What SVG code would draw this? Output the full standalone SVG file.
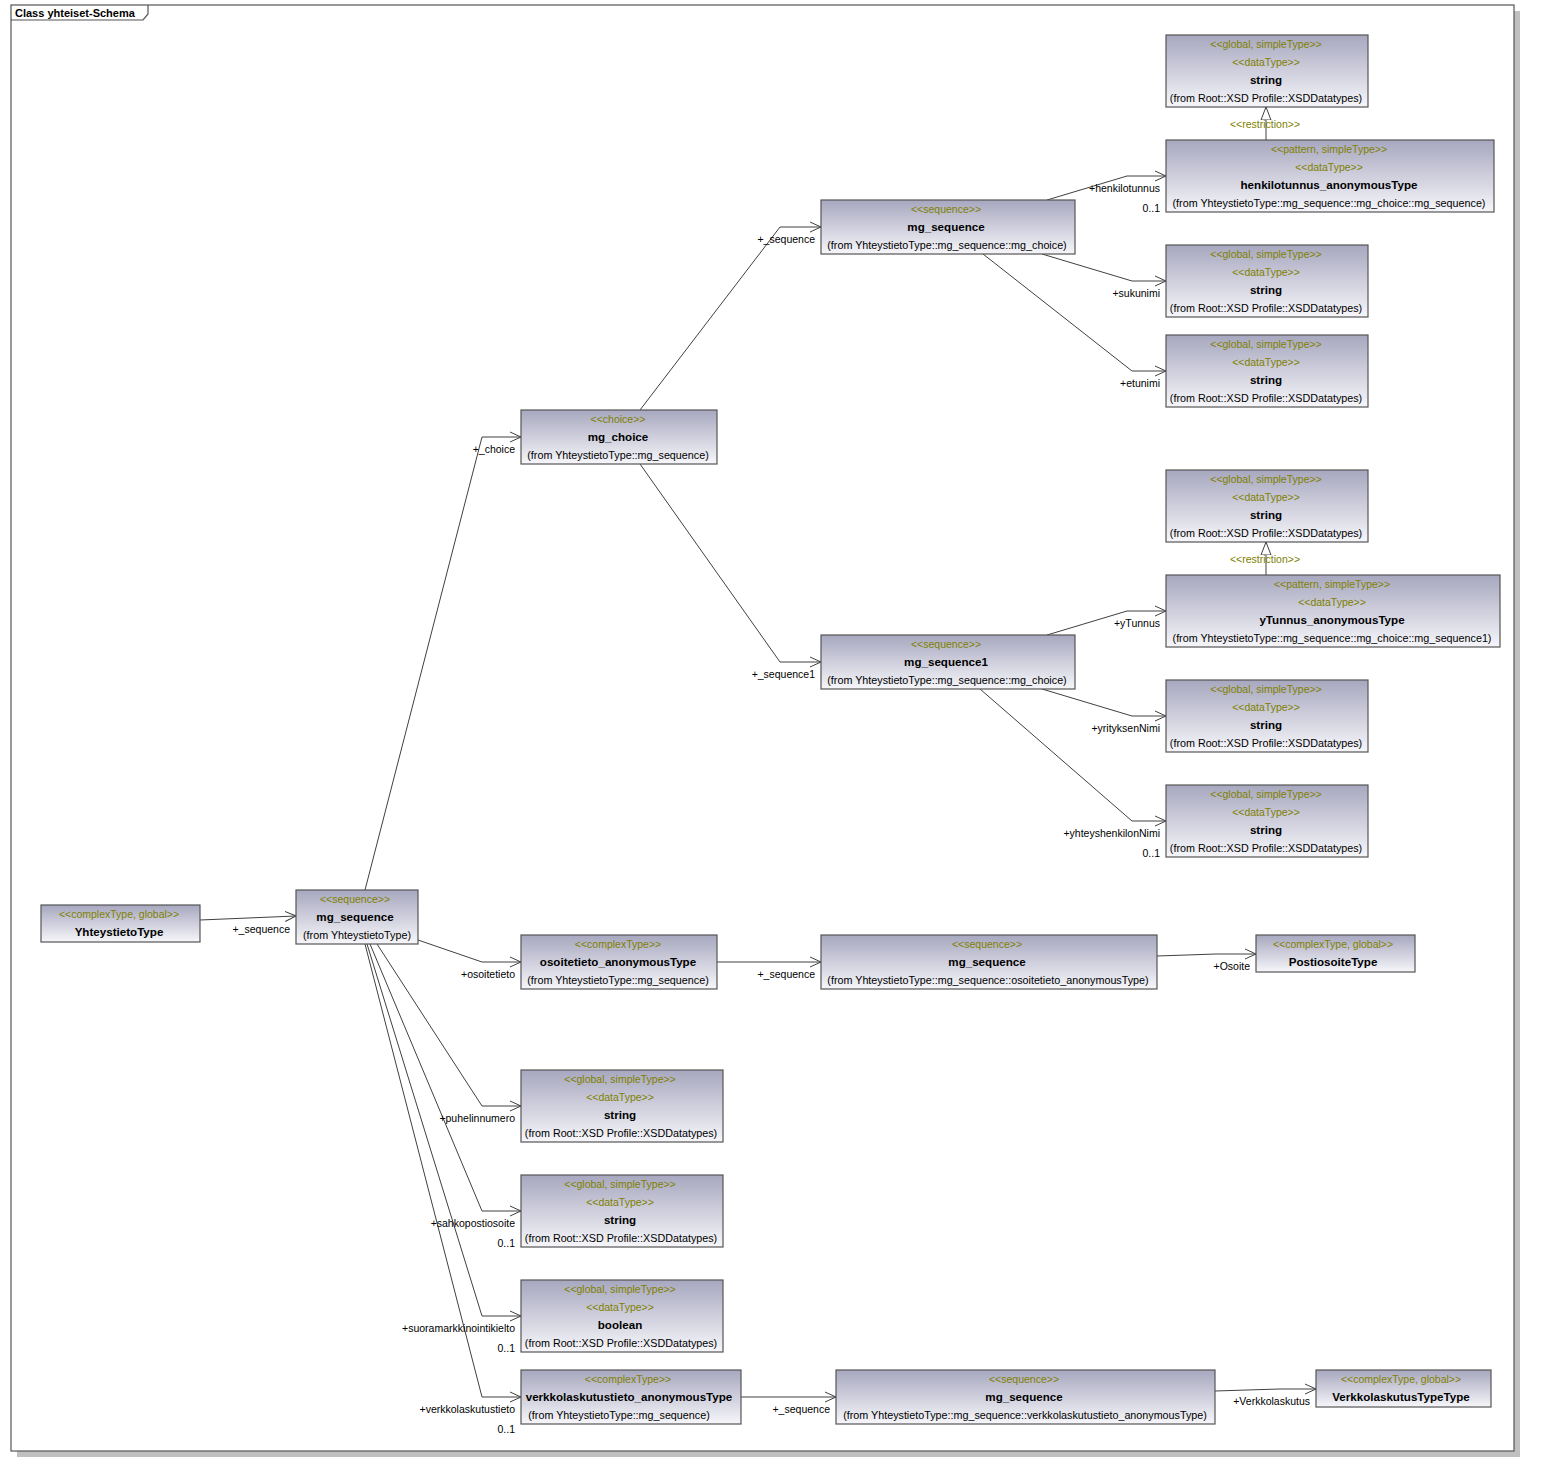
<svg xmlns="http://www.w3.org/2000/svg" width="1541" height="1472" viewBox="0 0 1541 1472">
<defs>
<linearGradient id="g" x1="0" y1="0" x2="0" y2="1">
<stop offset="0" stop-color="#a7a7bf"/>
<stop offset="1" stop-color="#f6f6fa"/>
</linearGradient>
<marker id="open" viewBox="0 0 12 12" refX="11" refY="6" markerWidth="12" markerHeight="12" markerUnits="userSpaceOnUse" orient="auto">
<path d="M0,1 L11,6 L0,11" fill="none" stroke="#404040" stroke-width="1"/>
</marker>
<marker id="tri" viewBox="0 0 14 12" refX="13" refY="6" markerWidth="14" markerHeight="12" markerUnits="userSpaceOnUse" orient="auto">
<path d="M13,6 L0,1 L0,11 Z" fill="#ffffff" stroke="#404040" stroke-width="1"/>
</marker>
<style>
.box{fill:url(#g);stroke:#555555;stroke-width:1.2}
.st{font-family:"Liberation Sans",Arial,sans-serif;font-size:10.5px;fill:#808000;text-anchor:middle}
.nm{font-family:"Liberation Sans",Arial,sans-serif;font-size:11.6px;font-weight:bold;fill:#000000;text-anchor:middle}
.fr{font-family:"Liberation Sans",Arial,sans-serif;font-size:10.75px;fill:#000000;text-anchor:middle}
.lb{font-family:"Liberation Sans",Arial,sans-serif;font-size:10.5px;fill:#000000;text-anchor:end}
.ln{fill:none;stroke:#404040;stroke-width:1}
</style>
</defs>
<rect x="0" y="0" width="1541" height="1472" fill="#ffffff"/>
<g id="frame">
<rect x="17" y="11" width="1503" height="1446" fill="#c0c0c0"/>
<rect x="11" y="5" width="1503" height="1446" fill="#ffffff" stroke="#555555" stroke-width="1.2"/>
<path d="M11,20 L143,20 L148,14 L148,5" fill="none" stroke="#555555" stroke-width="1.2"/>
<text x="15" y="17" font-family="Liberation Sans,Arial,sans-serif" font-size="11" font-weight="bold" fill="#000">Class yhteiset-Schema</text>
</g>

<g id="connectors">
<polyline class="ln" points="200,920 296,916" marker-end="url(#open)"/>
<polyline class="ln" points="365,890 482,437 521,437" marker-end="url(#open)"/>
<polyline class="ln" points="640,410 780,227 821,227" marker-end="url(#open)"/>
<polyline class="ln" points="640,464 780,662 821,662" marker-end="url(#open)"/>
<polyline class="ln" points="1047,200 1127,176 1166,176" marker-end="url(#open)"/>
<polyline class="ln" points="1042,254 1132,281 1166,281" marker-end="url(#open)"/>
<polyline class="ln" points="983,254 1132,371 1166,371" marker-end="url(#open)"/>
<polyline class="ln" points="1047,635 1127,611 1166,611" marker-end="url(#open)"/>
<polyline class="ln" points="1042,689 1132,716 1166,716" marker-end="url(#open)"/>
<polyline class="ln" points="980,689 1132,821 1166,821" marker-end="url(#open)"/>
<line class="ln" x1="1266" y1="140" x2="1266" y2="107" marker-end="url(#tri)"/>
<line class="ln" x1="1266" y1="575" x2="1266" y2="542" marker-end="url(#tri)"/>
<polyline class="ln" points="418,940 482,962 521,962" marker-end="url(#open)"/>
<polyline class="ln" points="717,962 821,962" marker-end="url(#open)"/>
<polyline class="ln" points="1157,956 1216,954 1256,954" marker-end="url(#open)"/>
<polyline class="ln" points="377,944 482,1106 521,1106" marker-end="url(#open)"/>
<polyline class="ln" points="370,944 482,1211 521,1211" marker-end="url(#open)"/>
<polyline class="ln" points="367,944 482,1316 521,1316" marker-end="url(#open)"/>
<polyline class="ln" points="365,944 482,1397 521,1397" marker-end="url(#open)"/>
<polyline class="ln" points="741,1397 836,1397" marker-end="url(#open)"/>
<polyline class="ln" points="1215,1391 1280,1389 1316,1389" marker-end="url(#open)"/>
<text class="lb" x="290" y="933">+_sequence</text>
<text class="lb" x="515" y="453">+_choice</text>
<text class="lb" x="815" y="243">+_sequence</text>
<text class="lb" x="815" y="678">+_sequence1</text>
<text class="lb" x="1160" y="192">+henkilotunnus</text>
<text class="lb" x="1160" y="212">0..1</text>
<text class="lb" x="1160" y="297">+sukunimi</text>
<text class="lb" x="1160" y="387">+etunimi</text>
<text class="st" x="1265" y="128">&lt;&lt;restriction&gt;&gt;</text>
<text class="st" x="1265" y="563">&lt;&lt;restriction&gt;&gt;</text>
<text class="lb" x="1160" y="627">+yTunnus</text>
<text class="lb" x="1160" y="732">+yrityksenNimi</text>
<text class="lb" x="1160" y="837">+yhteyshenkilonNimi</text>
<text class="lb" x="1160" y="857">0..1</text>
<text class="lb" x="515" y="978">+osoitetieto</text>
<text class="lb" x="815" y="978">+_sequence</text>
<text class="lb" x="1250" y="970">+Osoite</text>
<text class="lb" x="515" y="1122">+puhelinnumero</text>
<text class="lb" x="515" y="1227">+sahkopostiosoite</text>
<text class="lb" x="515" y="1247">0..1</text>
<text class="lb" x="515" y="1332">+suoramarkkinointikielto</text>
<text class="lb" x="515" y="1352">0..1</text>
<text class="lb" x="515" y="1413">+verkkolaskutustieto</text>
<text class="lb" x="515" y="1433">0..1</text>
<text class="lb" x="830" y="1413">+_sequence</text>
<text class="lb" x="1310" y="1405">+Verkkolaskutus</text>
</g>

<g id="string1">
<rect class="box" x="1166" y="35" width="202" height="72"/>
<text class="st" x="1266" y="48">&lt;&lt;global, simpleType&gt;&gt;</text>
<text class="st" x="1266" y="66">&lt;&lt;dataType&gt;&gt;</text>
<text class="nm" x="1266" y="84">string</text>
<text class="fr" x="1266" y="102">(from Root::XSD Profile::XSDDatatypes)</text>
</g>
<g id="henkilotunnus">
<rect class="box" x="1166" y="140" width="328" height="72"/>
<text class="st" x="1329" y="153">&lt;&lt;pattern, simpleType&gt;&gt;</text>
<text class="st" x="1329" y="171">&lt;&lt;dataType&gt;&gt;</text>
<text class="nm" x="1329" y="189">henkilotunnus_anonymousType</text>
<text class="fr" x="1329" y="207">(from YhteystietoType::mg_sequence::mg_choice::mg_sequence)</text>
</g>
<g id="string2">
<rect class="box" x="1166" y="245" width="202" height="72"/>
<text class="st" x="1266" y="258">&lt;&lt;global, simpleType&gt;&gt;</text>
<text class="st" x="1266" y="276">&lt;&lt;dataType&gt;&gt;</text>
<text class="nm" x="1266" y="294">string</text>
<text class="fr" x="1266" y="312">(from Root::XSD Profile::XSDDatatypes)</text>
</g>
<g id="string3">
<rect class="box" x="1166" y="335" width="202" height="72"/>
<text class="st" x="1266" y="348">&lt;&lt;global, simpleType&gt;&gt;</text>
<text class="st" x="1266" y="366">&lt;&lt;dataType&gt;&gt;</text>
<text class="nm" x="1266" y="384">string</text>
<text class="fr" x="1266" y="402">(from Root::XSD Profile::XSDDatatypes)</text>
</g>
<g id="mg_sequence_choice">
<rect class="box" x="821" y="200" width="254" height="54"/>
<text class="st" x="946" y="213">&lt;&lt;sequence&gt;&gt;</text>
<text class="nm" x="946" y="231">mg_sequence</text>
<text class="fr" x="947" y="249">(from YhteystietoType::mg_sequence::mg_choice)</text>
</g>
<g id="mg_choice">
<rect class="box" x="521" y="410" width="196" height="54"/>
<text class="st" x="618" y="423">&lt;&lt;choice&gt;&gt;</text>
<text class="nm" x="618" y="441">mg_choice</text>
<text class="fr" x="618" y="459">(from YhteystietoType::mg_sequence)</text>
</g>
<g id="string4">
<rect class="box" x="1166" y="470" width="202" height="72"/>
<text class="st" x="1266" y="483">&lt;&lt;global, simpleType&gt;&gt;</text>
<text class="st" x="1266" y="501">&lt;&lt;dataType&gt;&gt;</text>
<text class="nm" x="1266" y="519">string</text>
<text class="fr" x="1266" y="537">(from Root::XSD Profile::XSDDatatypes)</text>
</g>
<g id="yTunnus">
<rect class="box" x="1166" y="575" width="334" height="72"/>
<text class="st" x="1332" y="588">&lt;&lt;pattern, simpleType&gt;&gt;</text>
<text class="st" x="1332" y="606">&lt;&lt;dataType&gt;&gt;</text>
<text class="nm" x="1332" y="624">yTunnus_anonymousType</text>
<text class="fr" x="1332" y="642">(from YhteystietoType::mg_sequence::mg_choice::mg_sequence1)</text>
</g>
<g id="mg_sequence1">
<rect class="box" x="821" y="635" width="254" height="54"/>
<text class="st" x="946" y="648">&lt;&lt;sequence&gt;&gt;</text>
<text class="nm" x="946" y="666">mg_sequence1</text>
<text class="fr" x="947" y="684">(from YhteystietoType::mg_sequence::mg_choice)</text>
</g>
<g id="string5">
<rect class="box" x="1166" y="680" width="202" height="72"/>
<text class="st" x="1266" y="693">&lt;&lt;global, simpleType&gt;&gt;</text>
<text class="st" x="1266" y="711">&lt;&lt;dataType&gt;&gt;</text>
<text class="nm" x="1266" y="729">string</text>
<text class="fr" x="1266" y="747">(from Root::XSD Profile::XSDDatatypes)</text>
</g>
<g id="string6">
<rect class="box" x="1166" y="785" width="202" height="72"/>
<text class="st" x="1266" y="798">&lt;&lt;global, simpleType&gt;&gt;</text>
<text class="st" x="1266" y="816">&lt;&lt;dataType&gt;&gt;</text>
<text class="nm" x="1266" y="834">string</text>
<text class="fr" x="1266" y="852">(from Root::XSD Profile::XSDDatatypes)</text>
</g>
<g id="YhteystietoType">
<rect class="box" x="41" y="905" width="159" height="37"/>
<text class="st" x="119" y="918">&lt;&lt;complexType, global&gt;&gt;</text>
<text class="nm" x="119" y="936">YhteystietoType</text>
</g>
<g id="mg_sequence_root">
<rect class="box" x="296" y="890" width="122" height="54"/>
<text class="st" x="355" y="903">&lt;&lt;sequence&gt;&gt;</text>
<text class="nm" x="355" y="921">mg_sequence</text>
<text class="fr" x="357" y="939">(from YhteystietoType)</text>
</g>
<g id="osoitetieto">
<rect class="box" x="521" y="935" width="196" height="54"/>
<text class="st" x="618" y="948">&lt;&lt;complexType&gt;&gt;</text>
<text class="nm" x="618" y="966">osoitetieto_anonymousType</text>
<text class="fr" x="618" y="984">(from YhteystietoType::mg_sequence)</text>
</g>
<g id="mg_sequence_osoite">
<rect class="box" x="821" y="935" width="336" height="54"/>
<text class="st" x="987" y="948">&lt;&lt;sequence&gt;&gt;</text>
<text class="nm" x="987" y="966">mg_sequence</text>
<text class="fr" x="988" y="984">(from YhteystietoType::mg_sequence::osoitetieto_anonymousType)</text>
</g>
<g id="PostiosoiteType">
<rect class="box" x="1256" y="935" width="159" height="37"/>
<text class="st" x="1333" y="948">&lt;&lt;complexType, global&gt;&gt;</text>
<text class="nm" x="1333" y="966">PostiosoiteType</text>
</g>
<g id="string7">
<rect class="box" x="521" y="1070" width="202" height="72"/>
<text class="st" x="620" y="1083">&lt;&lt;global, simpleType&gt;&gt;</text>
<text class="st" x="620" y="1101">&lt;&lt;dataType&gt;&gt;</text>
<text class="nm" x="620" y="1119">string</text>
<text class="fr" x="621" y="1137">(from Root::XSD Profile::XSDDatatypes)</text>
</g>
<g id="string8">
<rect class="box" x="521" y="1175" width="202" height="72"/>
<text class="st" x="620" y="1188">&lt;&lt;global, simpleType&gt;&gt;</text>
<text class="st" x="620" y="1206">&lt;&lt;dataType&gt;&gt;</text>
<text class="nm" x="620" y="1224">string</text>
<text class="fr" x="621" y="1242">(from Root::XSD Profile::XSDDatatypes)</text>
</g>
<g id="boolean">
<rect class="box" x="521" y="1280" width="202" height="72"/>
<text class="st" x="620" y="1293">&lt;&lt;global, simpleType&gt;&gt;</text>
<text class="st" x="620" y="1311">&lt;&lt;dataType&gt;&gt;</text>
<text class="nm" x="620" y="1329">boolean</text>
<text class="fr" x="621" y="1347">(from Root::XSD Profile::XSDDatatypes)</text>
</g>
<g id="verkkolaskutustieto">
<rect class="box" x="521" y="1370" width="220" height="54"/>
<text class="st" x="628" y="1383">&lt;&lt;complexType&gt;&gt;</text>
<text class="nm" x="629" y="1401">verkkolaskutustieto_anonymousType</text>
<text class="fr" x="619" y="1419">(from YhteystietoType::mg_sequence)</text>
</g>
<g id="mg_sequence_verkko">
<rect class="box" x="836" y="1370" width="379" height="54"/>
<text class="st" x="1024" y="1383">&lt;&lt;sequence&gt;&gt;</text>
<text class="nm" x="1024" y="1401">mg_sequence</text>
<text class="fr" x="1025" y="1419">(from YhteystietoType::mg_sequence::verkkolaskutustieto_anonymousType)</text>
</g>
<g id="VerkkolaskutusTypeType">
<rect class="box" x="1316" y="1370" width="175" height="37"/>
<text class="st" x="1401" y="1383">&lt;&lt;complexType, global&gt;&gt;</text>
<text class="nm" x="1401" y="1401">VerkkolaskutusTypeType</text>
</g>
</svg>
